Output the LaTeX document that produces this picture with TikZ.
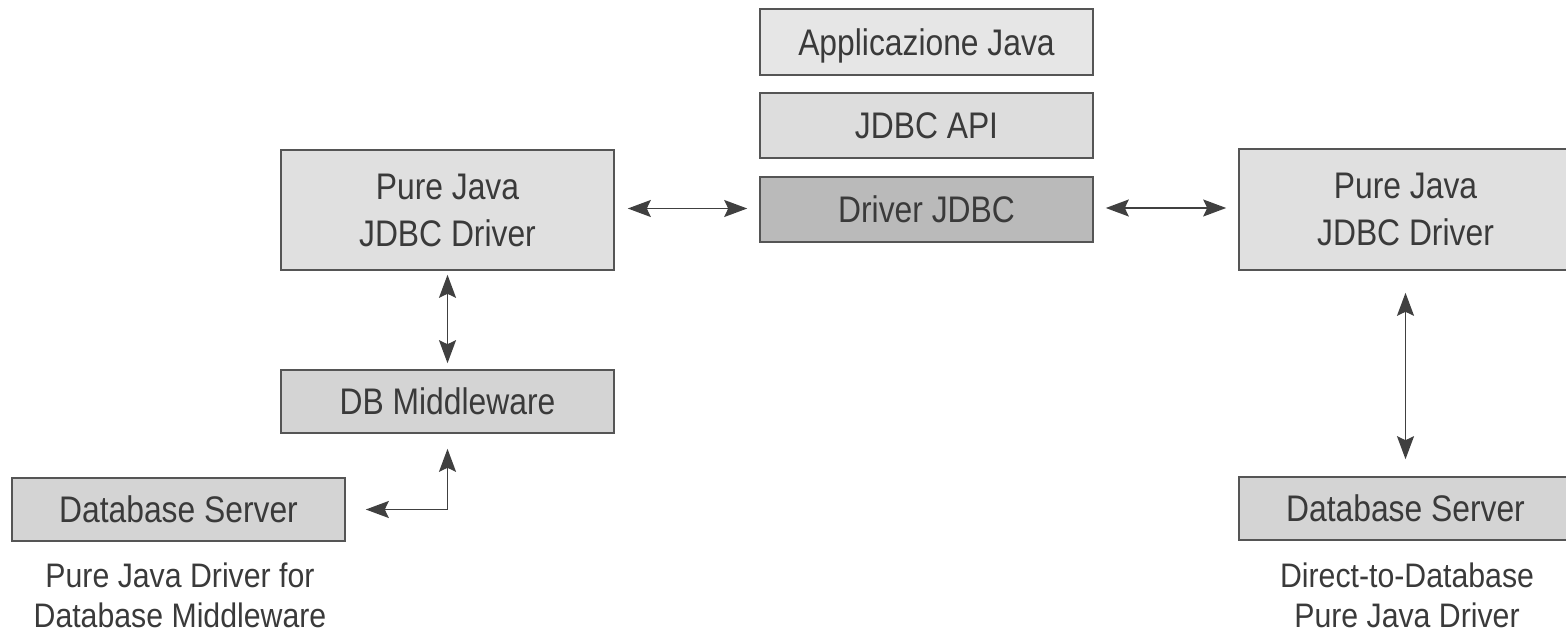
\documentclass[tikz,border=0pt]{standalone}
\usepackage{fontspec}
\usetikzlibrary{arrows.meta}
\newfontfamily\labelfont[FakeStretch=0.86]{Liberation Sans}
\newfontfamily\captionfont[FakeStretch=0.89]{Liberation Sans}
\definecolor{inkgray}{HTML}{3A3A3A}
\definecolor{edgegray}{HTML}{555555}
\definecolor{arrowgray}{HTML}{404040}
\definecolor{fillapp}{HTML}{E6E6E6}
\definecolor{fillapi}{HTML}{DDDDDD}
\definecolor{filldrv}{HTML}{BABABA}
\definecolor{fillpure}{HTML}{E0E0E0}
\definecolor{filldb}{HTML}{D4D4D4}
\tikzset{
  box/.style={draw=edgegray, line width=1.6pt, inner sep=0pt, align=center,
    text=inkgray, font=\labelfont\fontsize{37}{47}\selectfont},
  onerow/.style={box, text height=26.5pt, text depth=0pt},
  caption/.style={inner sep=0pt, anchor=base, text=inkgray,
    font=\captionfont\fontsize{34}{40}\selectfont},
  arr/.style={draw=arrowgray, line width=1.5pt,
    {Stealth[length=23pt,width=17pt,inset=4pt]}-{Stealth[length=23pt,width=17pt,inset=4pt]}}
}
\begin{document}
\begin{tikzpicture}[x=1pt,y=-1pt]
\useasboundingbox (0,0) rectangle (1566,636);

% central stack
\node[onerow, fill=fillapp, minimum width=333pt, minimum height=66pt] (app) at (926.5,42) {Applicazione Java};
\node[onerow, fill=fillapi, minimum width=333pt, minimum height=65pt] (api) at (926.5,125.5) {JDBC API};
\node[onerow, fill=filldrv, minimum width=333pt, minimum height=65pt] (drv) at (926.5,209.5) {Driver JDBC};

% left column: driver for database middleware
\node[box, fill=fillpure, minimum width=333pt, minimum height=120pt] (pjl) at (447.5,210) {Pure Java\\JDBC Driver};
\node[onerow, fill=filldb, minimum width=333pt, minimum height=63pt] (mid) at (447.5,401.5) {DB Middleware};
\node[onerow, fill=filldb, minimum width=333pt, minimum height=63pt] (dbl) at (178.5,509.5) {Database Server};
\node[caption] (capla) at (180,587) {Pure Java Driver for};
\node[caption] (caplb) at (180,627) {Database Middleware};

% right column: direct-to-database driver
\node[box, fill=fillpure, minimum width=333pt, minimum height=121pt] (pjr) at (1405.5,209.5) {Pure Java\\JDBC Driver};
\node[onerow, fill=filldb, minimum width=333pt, minimum height=63pt] (dbr) at (1405.5,508.5) {Database Server};
\node[caption] (capra) at (1407,587) {Direct-to-Database};
\node[caption] (caprb) at (1407,627) {Pure Java Driver};

% connectors
\draw[arr, shorten <=13pt, shorten >=12pt] ([yshift=1.5pt]pjl.east) -- ([yshift=1.5pt]drv.west |- pjl.east);
\draw[arr, shorten <=12pt, shorten >=12pt] ([yshift=1.5pt]drv.east) -- ([yshift=1.5pt]pjr.west |- drv.east);
\draw[arr, shorten <=4pt, shorten >=6pt] (pjl.south) -- (mid.north);
\draw[arr, shorten <=20pt, shorten >=15pt] (dbl.east) -| (mid.south);
\draw[arr, shorten <=22pt, shorten >=17pt] (pjr.south) -- (dbr.north);
\end{tikzpicture}
\end{document}
